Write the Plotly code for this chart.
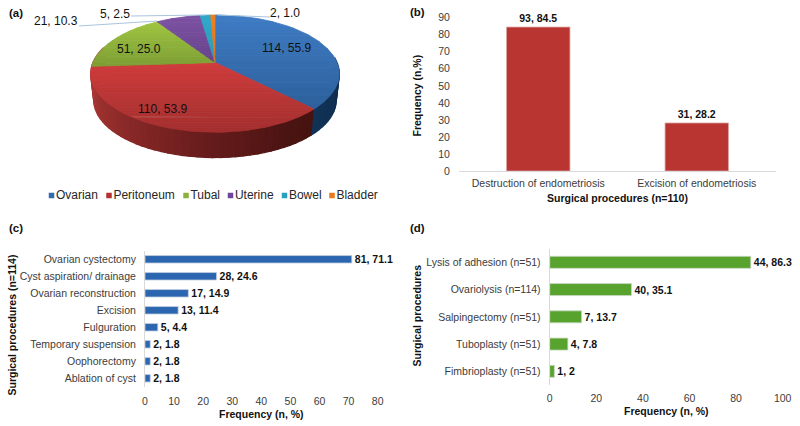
import math
import plotly.graph_objects as go

# ---- data ----
PIE_CATEGORIES = ["Ovarian", "Peritoneum", "Tubal", "Uterine", "Bowel", "Bladder"]
PIE_COUNTS = [114, 110, 51, 21, 5, 2]
PIE_PCTS = [55.9, 53.9, 25.0, 10.3, 2.5, 1.0]

B_CATEGORIES = ["Destruction of endometriosis", "Excision of endometriosis"]
B_COUNTS = [93, 31]
B_PCTS = [84.5, 28.2]

C_CATEGORIES = ["Ovarian cystectomy", "Cyst aspiration/ drainage", "Ovarian reconstruction", "Excision",
                "Fulguration", "Temporary suspension", "Oophorectomy", "Ablation of cyst"]
C_COUNTS = [81, 28, 17, 13, 5, 2, 2, 2]
C_PCTS = [71.1, 24.6, 14.9, 11.4, 4.4, 1.8, 1.8, 1.8]

D_CATEGORIES = ["Lysis of adhesion (n=51)", "Ovariolysis (n=114)", "Salpingectomy (n=51)",
                "Tuboplasty (n=51)", "Fimbrioplasty (n=51)"]
D_COUNTS = [44, 40, 7, 4, 1]
D_PCTS = [86.3, 35.1, 13.7, 7.8, 2]

# ---- style ----
W, H = 800, 426
FONT = "Liberation Sans"
TICK = "#3c3c3c"
AXIS = "#d9d9d9"
TOP_COL = [("#3f7cc4", "#2d609c"), ("#d03d3d", "#a32e2e"), ("#a0c642", "#7d9e34"),
           ("#7d52a3", "#67438c"), ("#2fa8ca", "#2b9ab8"), ("#f08020", "#e0741a")]
LEG_COL = ["#2e6db4", "#b5312f", "#8cb03a", "#6f479a", "#2a9fc0", "#e8791c"]


def xd(a, b):
    return [a / W, b / W]


def yd(top, bottom):
    return [1 - bottom / H, 1 - top / H]


def mix(c1, c2, t):
    t = max(0, min(1, t))
    a = [int(c1[i:i + 2], 16) for i in (1, 3, 5)]
    b = [int(c2[i:i + 2], 16) for i in (1, 3, 5)]
    return "#%02x%02x%02x" % tuple(round(p + (q - p) * t) for p, q in zip(a, b))


fig = go.Figure()

# ---- pie: projected disc in its own axes ----
CX, CY, A, B, K, DEPTH, SHRINK = 215.0, 62.5, 122.0, 56.5, 0.19, 27.0, 0.975


def rim(theta, low=False):
    t = math.radians(theta)
    X, Y = math.sin(t), -math.cos(t)
    d = 1 - K * Y
    s = SHRINK if low else 1.0
    return (CX + s * A * X / d, CY + s * B * Y / d + (DEPTH if low else 0))


def clip(poly, yval, keep_below):
    out = []
    for i in range(len(poly)):
        p, q = poly[i], poly[(i + 1) % len(poly)]
        pin = (p[1] >= yval) if keep_below else (p[1] <= yval)
        qin = (q[1] >= yval) if keep_below else (q[1] <= yval)
        if pin:
            out.append(p)
        if pin != qin:
            u = (yval - p[1]) / (q[1] - p[1])
            out.append((p[0] + u * (q[0] - p[0]), yval))
    return out


def poly_trace(poly, color, lw=0.8):
    xs = [p[0] for p in poly] + [poly[0][0]]
    ys = [p[1] for p in poly] + [poly[0][1]]
    fig.add_trace(go.Scatter(x=xs, y=ys, mode="lines", fill="toself", fillcolor=color,
                             line=dict(color=color, width=lw), hoverinfo="skip",
                             showlegend=False, xaxis="x", yaxis="y"))


total = sum(PIE_COUNTS)
bounds = [0.0]
for v in PIE_COUNTS:
    bounds.append(bounds[-1] + 360.0 * v / total)


def side_color(theta):
    stops = [(95, "#0f2c4e"), (bounds[1] - 0.01, "#123356"), (bounds[1], "#451311"), (150, "#4a1412"),
             (180, "#641b1b"), (215, "#862827"), (250, "#a53532"), (290, "#ad3734")]
    for (a, ca), (b, cb) in zip(stops, stops[1:]):
        if a <= theta <= b:
            return mix(ca, cb, (theta - a) / (b - a))
    return stops[0][1]


# side wall
th = 85.0
while th < 285:
    nx = th + 3
    mid = (th + nx) / 2
    poly_trace([rim(th), rim(nx), rim(nx, True), rim(th, True)], side_color(mid), lw=1.3)
    th = nx

# top faces, banded for the vertical shading
for i in range(len(PIE_COUNTS)):
    a, b = bounds[i], bounds[i + 1]
    n = max(2, int((b - a) / 2))
    wedge = [(CX, CY)] + [rim(a + (b - a) * j / n) for j in range(n + 1)]
    ymin, ymax = min(p[1] for p in wedge), max(p[1] for p in wedge)
    bands = 14
    for j in range(bands):
        y0 = ymin + (ymax - ymin) * j / bands
        y1 = ymin + (ymax - ymin) * (j + 1) / bands
        part = clip(clip(wedge, y0, True), y1, False)
        if len(part) >= 3:
            poly_trace(part, mix(TOP_COL[i][0], TOP_COL[i][1], (j + 0.5) / bands))

# leader lines (outside labels)
LEADERS = [[(79, 26), (157, 21)], [(131, 16), (205, 15)], [(270, 17), (217, 15)]]
for seg in LEADERS:
    fig.add_shape(type="line", xref="x", yref="y", x0=seg[0][0], y0=seg[0][1], x1=seg[1][0], y1=seg[1][1],
                  line=dict(color="#a9c4de", width=1))

pie_label_pos = [(286, 48), (162, 109), (139, 49), (56, 21), (115, 14), (285, 13)]
for n, p, (x, y) in zip(PIE_COUNTS, PIE_PCTS, pie_label_pos):
    fig.add_annotation(x=x, y=y, xref="x", yref="y", text=f"{n}, {p:.1f}", showarrow=False,
                       xanchor="center", yanchor="middle",
                       font=dict(family=FONT, size=12, color="#111111"))

legend_x = [51.5, 109, 186, 230.5, 284.5, 332]
for name, col, x in zip(PIE_CATEGORIES, LEG_COL, legend_x):
    fig.add_trace(go.Scatter(x=[x], y=[195.5], mode="markers+text", name=name, text=[name],
                             textposition="middle right", cliponaxis=False, hoverinfo="skip",
                             textfont=dict(family=FONT, size=12, color="#262626"),
                             marker=dict(symbol="square", size=5.5, color=col),
                             showlegend=False, xaxis="x", yaxis="y"))


def bar_text(counts, pcts):
    return [f"{n}, {p:g}" for n, p in zip(counts, pcts)]


BAR_FONT = dict(family=FONT, size=10.5, color="#111111", weight="bold")
# ---- b ----
fig.add_trace(go.Bar(x=B_CATEGORIES, y=B_PCTS, width=0.4, xaxis="x2", yaxis="y2",
                     marker=dict(color="#b93532", line=dict(color="#dba5a3", width=0.8)),
                     text=bar_text(B_COUNTS, B_PCTS), textposition="outside", cliponaxis=False,
                     constraintext="none", textfont=BAR_FONT, showlegend=False))
# ---- c ----
fig.add_trace(go.Bar(y=C_CATEGORIES, x=C_PCTS, orientation="h", width=0.44, xaxis="x3", yaxis="y3",
                     marker=dict(color="#2d66b0", line=dict(color="#c3cfe2", width=0.8)),
                     text=bar_text(C_COUNTS, C_PCTS), textposition="outside", cliponaxis=False,
                     constraintext="none", textfont=BAR_FONT, showlegend=False))
# ---- d ----
fig.add_trace(go.Bar(y=D_CATEGORIES, x=D_PCTS, orientation="h", width=0.44, xaxis="x4", yaxis="y4",
                     marker=dict(color="#57a32e", line=dict(color="#ccd8c4", width=0.8)),
                     text=bar_text(D_COUNTS, D_PCTS), textposition="outside", cliponaxis=False,
                     constraintext="none", textfont=BAR_FONT, showlegend=False))

tickf = dict(family=FONT, size=10.5, color=TICK)
hidden_tick = dict(ticks="outside", tickcolor="rgba(0,0,0,0)", tickfont=tickf)
layout = dict(
    width=W, height=H, margin=dict(l=0, r=0, t=0, b=0), paper_bgcolor="white", plot_bgcolor="white",
    showlegend=False,
    xaxis=dict(domain=[0, 0.5], range=[0, 400], visible=False, fixedrange=True),
    yaxis=dict(domain=[0.5, 1], range=[213, 0], visible=False, fixedrange=True, anchor="x"),
    xaxis2=dict(domain=xd(459, 776), anchor="y2", showline=True, linecolor=AXIS, linewidth=1, showgrid=False,
                ticklen=2.5, automargin=False, **hidden_tick),
    yaxis2=dict(domain=yd(17.7, 171), anchor="x2", range=[0, 90], dtick=10, showline=False, showgrid=False,
                zeroline=False, ticklen=6, automargin=False, **hidden_tick),
    xaxis3=dict(domain=xd(145, 377.7), anchor="y3", range=[0, 80], dtick=10, showline=False, showgrid=False,
                zeroline=False, ticklen=5, automargin=False, **hidden_tick),
    yaxis3=dict(domain=yd(250.8, 386.8), anchor="x3", autorange="reversed", showline=True, linecolor=AXIS,
                linewidth=1, showgrid=False, ticklen=6, automargin=False, **hidden_tick),
    xaxis4=dict(domain=xd(549.7, 782.7), anchor="y4", range=[0, 100], dtick=20, showline=False, showgrid=False,
                zeroline=False, ticklen=3, automargin=False, **hidden_tick),
    yaxis4=dict(domain=yd(248.7, 385), anchor="x4", autorange="reversed", showline=True,
                linecolor=AXIS, linewidth=1, showgrid=False, ticklen=6, automargin=False, **hidden_tick),
)
fig.update_layout(**layout)


def paper_text(text, x, y, size=10.5, bold=True, angle=0, color="#111111"):
    fig.add_annotation(x=x / W, y=1 - y / H, xref="paper", yref="paper", text=text, showarrow=False, textangle=angle,
                       xanchor="center", yanchor="middle",
                       font=dict(family=FONT, size=size, color=color, weight="bold" if bold else "normal"))


for t, x, y in [("(a)", 16, 13), ("(b)", 417, 12), ("(c)", 16, 228), ("(d)", 417, 228)]:
    paper_text(t, x, y, size=11.5)
paper_text("Surgical procedures (n=110)", 617, 198)
paper_text("Frequency (n,%)", 416.5, 96, angle=-90)
paper_text("Frequency (n, %)", 261.5, 413.5)
paper_text("Surgical procedures (n=114)", 11.5, 325, angle=-90)
paper_text("Frequency (n, %)", 666, 411)
paper_text("Surgical procedures", 416.5, 316, angle=-90)

fig.write_html("out.html", config={"displayModeBar": False}, post_script="document.body.style.margin='0';")
